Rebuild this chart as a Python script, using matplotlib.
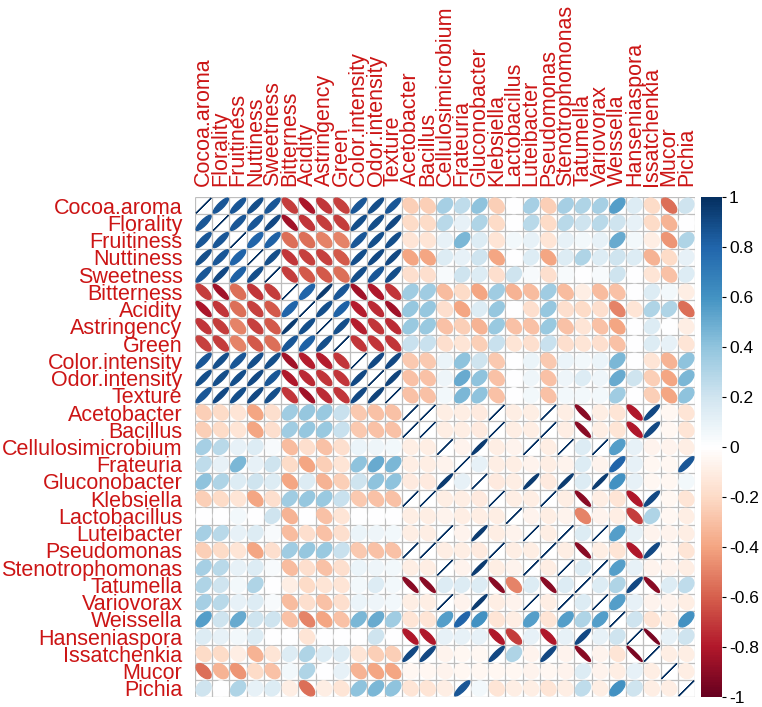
import numpy as np
import matplotlib
matplotlib.use("Agg")
from matplotlib import pyplot as plt
from matplotlib.patches import Ellipse
from matplotlib.colors import LinearSegmentedColormap, Normalize
from matplotlib.cm import ScalarMappable

plt.rcParams["font.family"] = ["Liberation Sans", "DejaVu Sans"]

sensory = ["Cocoa.aroma", "Florality", "Fruitiness", "Nuttiness", "Sweetness",
           "Bitterness", "Acidity", "Astringency", "Green", "Color.intensity",
           "Odor.intensity", "Texture"]
microbes = ["Acetobacter", "Bacillus", "Cellulosimicrobium", "Frateuria",
            "Gluconobacter", "Klebsiella", "Lactobacillus", "Luteibacter",
            "Pseudomonas", "Stenotrophomonas", "Tatumella", "Variovorax",
            "Weissella", "Hanseniaspora", "Issatchenkia", "Mucor", "Pichia"]

# sensory vs sensory, upper triangle (values right of the diagonal)
sens_sens = [
    [0.85, 0.85, 0.88, 0.85, -0.70, -0.82, -0.72, -0.68, 0.85, 0.88, 0.85],
    [0.85, 0.85, 0.90, -0.85, -0.72, -0.70, -0.70, 0.88, 0.88, 0.90],
    [0.80, 0.82, -0.55, -0.55, -0.50, -0.50, 0.85, 0.88, 0.88],
    [0.88, -0.72, -0.68, -0.68, -0.62, 0.88, 0.90, 0.90],
    [-0.70, -0.62, -0.62, -0.55, 0.88, 0.85, 0.88],
    [0.80, 0.95, 0.85, -0.85, -0.80, -0.72],
    [0.88, 0.82, -0.78, -0.75, -0.85],
    [0.88, -0.78, -0.72, -0.75],
    [-0.72, -0.72, -0.72],
    [0.90, 0.90],
    [0.92],
]

# sensory (rows) vs microbes (columns)
sens_micro = [
    [-0.25, -0.25, 0.33, 0.25, 0.40, -0.25, 0.00, 0.33, -0.25, 0.33, 0.30, 0.33, 0.55, 0.15, -0.20, -0.55, 0.20],
    [-0.20, -0.20, 0.27, 0.10, 0.30, -0.20, 0.00, 0.27, -0.20, 0.27, 0.20, 0.27, 0.20, 0.10, -0.20, -0.35, 0.00],
    [-0.15, -0.15, 0.10, 0.45, 0.15, -0.15, 0.05, 0.10, -0.15, 0.10, 0.05, 0.10, 0.50, 0.05, -0.10, -0.45, 0.30],
    [-0.40, -0.40, 0.15, 0.10, 0.20, -0.40, 0.00, 0.15, -0.40, 0.15, 0.30, 0.15, 0.20, 0.15, -0.35, -0.20, 0.10],
    [-0.18, -0.18, 0.03, 0.20, 0.15, -0.18, 0.20, 0.03, -0.18, 0.03, 0.00, 0.03, 0.20, 0.00, -0.15, -0.30, 0.15],
    [0.35, 0.35, -0.32, -0.20, -0.40, 0.35, -0.35, -0.32, 0.35, -0.32, -0.10, -0.32, -0.30, 0.00, 0.15, 0.05, -0.10],
    [0.38, 0.38, -0.18, -0.40, 0.15, 0.38, 0.00, -0.18, 0.38, -0.18, -0.20, -0.18, -0.50, -0.15, 0.30, 0.30, -0.55],
    [0.37, 0.37, -0.30, -0.25, -0.35, 0.37, -0.30, -0.30, 0.37, -0.30, -0.15, -0.30, -0.40, 0.00, 0.15, 0.00, -0.10],
    [0.22, 0.22, -0.18, -0.15, -0.25, 0.22, -0.15, -0.18, 0.22, -0.18, -0.15, -0.18, -0.30, 0.00, 0.15, 0.10, -0.15],
    [-0.27, -0.27, 0.08, 0.40, 0.20, -0.27, 0.00, 0.08, -0.27, 0.08, 0.05, 0.08, 0.45, 0.00, -0.15, -0.35, 0.40],
    [-0.30, -0.30, 0.07, 0.50, 0.40, -0.30, 0.00, 0.07, -0.30, 0.07, 0.15, 0.07, 0.50, 0.20, -0.25, -0.40, 0.45],
    [-0.30, -0.30, 0.05, 0.45, 0.40, -0.30, 0.00, 0.05, -0.30, 0.05, 0.05, 0.05, 0.35, 0.00, -0.25, -0.40, 0.40],
]

# microbes vs microbes, upper triangle
micro_micro = [
    [1.00, -0.10, -0.10, -0.12, 1.00, -0.10, -0.10, 1.00, -0.10, -0.90, -0.10, -0.15, -0.80, 0.90, -0.05, -0.15],
    [-0.10, -0.10, -0.12, 1.00, -0.10, -0.10, 1.00, -0.10, -0.90, -0.10, -0.15, -0.80, 0.90, -0.05, -0.15],
    [-0.07, 0.95, -0.10, -0.07, 1.00, -0.10, 1.00, 0.15, 1.00, 0.55, 0.10, -0.07, -0.07, -0.10],
    [0.10, -0.10, -0.10, -0.07, -0.10, -0.07, 0.15, -0.07, 0.80, 0.10, -0.05, -0.05, 0.85],
    [-0.12, -0.10, 0.95, -0.12, 0.95, 0.15, 0.95, 0.60, 0.10, -0.05, -0.05, 0.05],
    [-0.10, -0.10, 1.00, -0.10, -0.90, -0.10, -0.15, -0.80, 0.90, -0.05, -0.15],
    [-0.07, -0.10, -0.07, -0.50, -0.07, -0.10, -0.70, 0.30, -0.05, -0.10],
    [-0.10, 1.00, 0.15, 1.00, 0.55, 0.10, -0.07, -0.07, -0.10],
    [-0.10, -0.90, -0.10, -0.15, -0.80, 0.90, -0.05, -0.15],
    [0.15, 1.00, 0.55, 0.10, -0.07, -0.07, -0.10],
    [0.15, 0.30, 0.90, -0.90, 0.15, 0.25],
    [0.55, 0.10, -0.07, -0.07, -0.10],
    [0.20, -0.15, -0.10, 0.60],
    [-0.95, 0.10, 0.20],
    [-0.10, -0.10],
    [-0.10],
]

bar_ticks = [1, 0.8, 0.6, 0.4, 0.2, 0, -0.2, -0.4, -0.6, -0.8, -1]

COLS = ["#67001F", "#B2182B", "#D6604D", "#F4A582", "#FDDBC7", "#FFFFFF",
        "#D1E5F0", "#92C5DE", "#4393C3", "#2166AC", "#053061"]
LABEL_COL = "#CC1515"


def build_matrix():
    ns = len(sensory)
    labels = sensory + microbes
    n = len(labels)
    corr = np.eye(n)
    for i, row in enumerate(sens_sens):
        corr[i, i + 1:ns] = row
    for i, row in enumerate(sens_micro):
        corr[i, ns:] = row
    for k, row in enumerate(micro_micro):
        corr[ns + k, ns + k + 1:] = row
    corr = np.triu(corr) + np.triu(corr, 1).T
    return labels, corr


def main():
    labels, corr = build_matrix()
    n = len(labels)
    cmap = LinearSegmentedColormap.from_list("rdbu", COLS, N=200)
    norm = Normalize(-1, 1)

    fig = plt.figure(figsize=(7.62, 7.07), dpi=100)
    ax = fig.add_axes([195 / 762, 10 / 707, 500 / 762, 500 / 707])

    c = 0.44
    for i in range(n):
        for j in range(n):
            r = corr[i, j]
            a = np.arccos(np.clip(r, -1, 1))
            w = 2 * c * np.sqrt(2) * np.cos(a / 2)
            h = 2 * c * np.sqrt(2) * np.sin(a / 2)
            col = cmap(norm(r))
            ax.add_patch(Ellipse((j, n - 1 - i), w, h, angle=45,
                                 facecolor=col, edgecolor=col, lw=0.9))

    edges = np.arange(n + 1) - 0.5
    ax.vlines(edges, -0.5, n - 0.5, color="#BEBEBE", lw=0.9, zorder=0)
    ax.hlines(edges, -0.5, n - 0.5, color="#BEBEBE", lw=0.9, zorder=0)

    ax.set_xlim(-0.5, n - 0.5)
    ax.set_ylim(-0.5, n - 0.5)
    for s in ax.spines.values():
        s.set_visible(False)

    ax.xaxis.tick_top()
    ax.set_xticks(range(n))
    ax.set_xticklabels(labels, rotation=90, color=LABEL_COL, fontsize=15.5)
    ax.set_yticks([n - 1 - i for i in range(n)])
    ax.set_yticklabels(labels, color=LABEL_COL, fontsize=15.5)
    ax.tick_params(axis="both", length=0)
    ax.tick_params(axis="x", pad=8)
    ax.tick_params(axis="y", pad=9)

    cax = fig.add_axes([701 / 762, 10 / 707, 21 / 762, 500 / 707])
    cb = fig.colorbar(ScalarMappable(norm=norm, cmap=cmap), cax=cax)
    cb.outline.set_visible(False)
    cb.set_ticks(bar_ticks)
    cb.set_ticklabels([f"{t:g}" for t in bar_ticks])
    cax.tick_params(labelsize=12.5, length=3, width=0.8, pad=2)

    fig.savefig("out.png", dpi=100)


if __name__ == "__main__":
    main()
